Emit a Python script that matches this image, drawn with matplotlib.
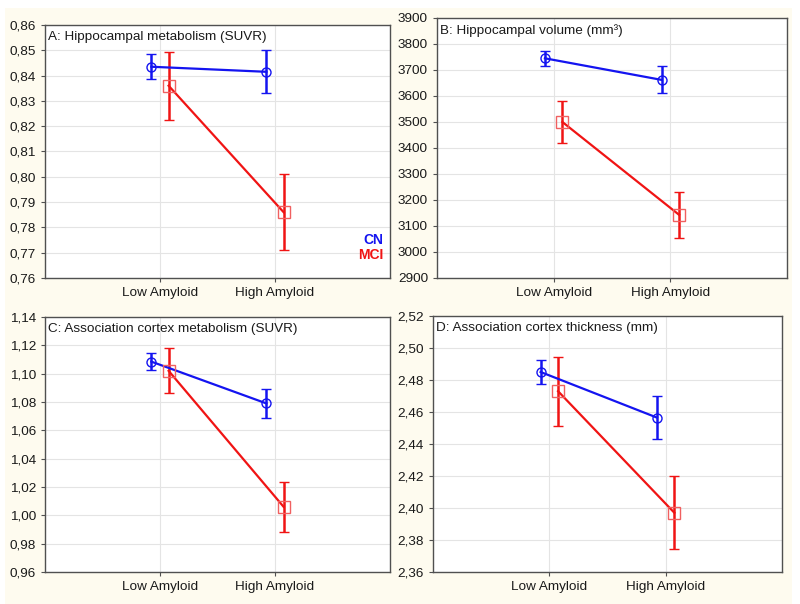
import matplotlib
matplotlib.use("Agg")
import matplotlib.pyplot as plt
from matplotlib.patches import Rectangle
from matplotlib.ticker import FuncFormatter, MultipleLocator

plt.rcParams['font.family'] = ['Liberation Sans', 'DejaVu Sans']

categories = ["Low Amyloid", "High Amyloid"]
groups = ["CN", "MCI"]

titles = ["A: Hippocampal metabolism (SUVR)",
          "B: Hippocampal volume (mm³)",
          "C: Association cortex metabolism (SUVR)",
          "D: Association cortex thickness (mm)"]

# means and half-widths of error bars
cn_mean_A = [0.8435, 0.8415]
cn_err_A = [0.0050, 0.0085]
mci_mean_A = [0.836, 0.786]
mci_err_A = [0.0135, 0.0150]

cn_mean_B = [3745, 3662]
cn_err_B = [30, 52]
mci_mean_B = [3500, 3143]
mci_err_B = [82, 88]

cn_mean_C = [1.1085, 1.079]
cn_err_C = [0.006, 0.0105]
mci_mean_C = [1.102, 1.006]
mci_err_C = [0.016, 0.0175]

cn_mean_D = [2.485, 2.4565]
cn_err_D = [0.0078, 0.0135]
mci_mean_D = [2.473, 2.397]
mci_err_D = [0.0215, 0.0228]

ylims = [(0.76, 0.86), (2900, 3900), (0.96, 1.14), (2.36, 2.52)]
ysteps = [0.01, 100, 0.02, 0.02]
ydec = [2, 0, 2, 2]

panels = [
    (cn_mean_A, cn_err_A, mci_mean_A, mci_err_A),
    (cn_mean_B, cn_err_B, mci_mean_B, mci_err_B),
    (cn_mean_C, cn_err_C, mci_mean_C, mci_err_C),
    (cn_mean_D, cn_err_D, mci_mean_D, mci_err_D),
]

W, H = 800, 604
fig = plt.figure(figsize=(8, 6.04), dpi=100)
fig.patch.set_facecolor('white')
fig.patches.append(Rectangle((5 / W, 0), (792 - 5) / W, (604 - 8) / H,
                             transform=fig.transFigure, facecolor='#FEFBEF',
                             edgecolor='none', zorder=-10))

# pixel boxes: left, right, top, bottom
boxes = [(45, 390, 25, 278), (437, 787, 18, 278),
         (45, 390, 317, 572), (433, 782, 316, 572)]

blue = '#1414F0'
red = '#F01414'
off = 0.075

for i, (box, (cm, ce, mm, me)) in enumerate(zip(boxes, panels)):
    l, r, t, b = box
    ax = fig.add_axes([l / W, 1 - b / H, (r - l) / W, (b - t) / H])
    ax.set_facecolor('white')
    xs = list(range(len(categories)))
    ax.errorbar([x - off for x in xs], cm, yerr=ce, color=blue, lw=1.6,
                marker='o', ms=6.5, mfc='none', mec=blue, mew=1.0,
                capsize=3.7, capthick=1.8, elinewidth=1.8, zorder=3)
    ax.errorbar([x + off for x in xs], mm, yerr=me, color=red, lw=1.6,
                marker='s', ms=8.5, mfc='none', mec='#F06060', mew=1.0,
                capsize=3.7, capthick=1.8, elinewidth=1.8, zorder=3)
    ax.set_xlim(-1, 2)
    ax.set_ylim(*ylims[i])
    ax.set_xticks(xs)
    ax.set_xticklabels(categories)
    d = ydec[i]
    ax.yaxis.set_major_locator(MultipleLocator(ysteps[i]))
    ax.yaxis.set_major_formatter(FuncFormatter(
        lambda v, p, d=d: (f"{v:.{d}f}").replace('.', ',')))
    ax.grid(True, color='#E4E4E4', lw=0.8, zorder=0)
    ax.set_axisbelow(True)
    for s in ax.spines.values():
        s.set_color('#505050')
        s.set_linewidth(1.0)
    ax.tick_params(axis='both', labelsize=9.7, colors='#505050', length=3,
                   labelcolor='#1a1a1a')
    ax.text(0.01, 0.975, titles[i], transform=ax.transAxes, ha='left',
            va='top', fontsize=9.7, color='#1a1a1a')
    if i == 0:
        ax.text(0.98, 0.15, groups[0], transform=ax.transAxes, ha='right',
                va='center', fontsize=10, color=blue, fontweight='bold')
        ax.text(0.98, 0.09, groups[1], transform=ax.transAxes, ha='right',
                va='center', fontsize=10, color=red, fontweight='bold')

fig.savefig("out.png", dpi=100, facecolor=fig.get_facecolor())
